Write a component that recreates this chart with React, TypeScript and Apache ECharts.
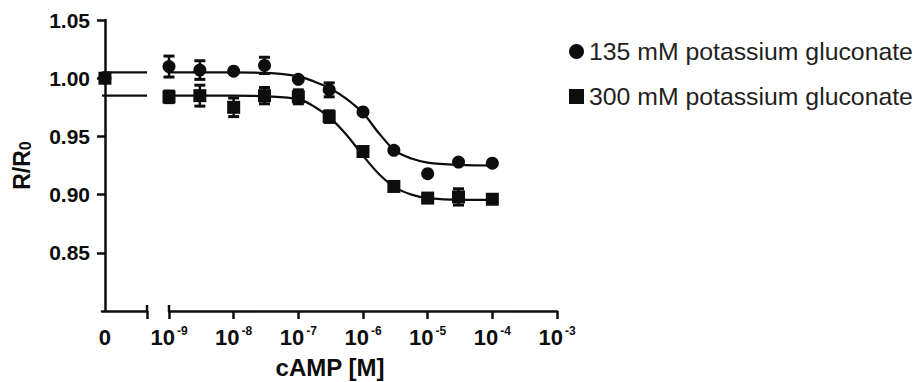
import React, { useEffect, useRef } from "react";
import * as echarts from "echarts";

// Measured concentrations (M) and responses R/R0
const conc = [1e-9, 3e-9, 1e-8, 3e-8, 1e-7, 3e-7, 1e-6, 3e-6, 1e-5, 3e-5, 1e-4];
const r135 = [1.010, 1.007, 1.006, 1.011, 0.999, 0.990, 0.971, 0.938, 0.918, 0.928, 0.927];
const err135 = [0.009, 0.008, 0, 0.007, 0, 0.006, 0, 0, 0, 0, 0];
const r300 = [0.984, 0.985, 0.975, 0.985, 0.984, 0.967, 0.937, 0.907, 0.897, 0.898, 0.896];
const err300 = [0.005, 0.009, 0.008, 0.007, 0.006, 0.005, 0, 0, 0, 0.007, 0];

// Zero-concentration point
const zeroConc = 0;
const zero135 = 1.0;
const zero300 = 1.0;

// Fitted curves
const curveConc = [1e-9, 1e-8, 3.162e-8, 1e-7, 1.778e-7, 3.162e-7, 5.623e-7, 1e-6, 1.778e-6, 3.162e-6, 5.623e-6, 1e-5, 3.162e-5, 1e-4];
const fit135 = [1.005, 1.005, 1.0045, 1.0015, 0.997, 0.991, 0.982, 0.970, 0.9525, 0.9375, 0.931, 0.9275, 0.9255, 0.925];
const fit300 = [0.985, 0.985, 0.9845, 0.982, 0.9755, 0.9655, 0.951, 0.9335, 0.9175, 0.906, 0.900, 0.897, 0.8955, 0.8955];

// Break segment (left of axis break) plateau lines
const breakX = [-0.07, 1];
const plateau135 = 1.005;
const plateau300 = 0.985;

const yTicks = [0.85, 0.9, 0.95, 1.0, 1.05];
const xTicks = [1e-9, 1e-8, 1e-7, 1e-6, 1e-5, 1e-4, 1e-3];

const NAME135 = "135 mM potassium gluconate";
const NAME300 = "300 mM potassium gluconate";
const FONT = "'Liberation Sans', Arial, Helvetica, sans-serif";
const INK = "#0d0d0d";

function errorBar(params: any, api: any) {
  const x = api.value(0);
  const lo = api.value(1);
  const hi = api.value(2);
  const p1 = api.coord([x, lo]);
  const p2 = api.coord([x, hi]);
  const w = 5.5;
  const st = { stroke: INK, lineWidth: 3 };
  return {
    type: "group",
    children: [
      { type: "line", shape: { x1: p1[0], y1: p1[1], x2: p2[0], y2: p2[1] }, style: { stroke: INK, lineWidth: 2.5 } },
      { type: "line", shape: { x1: p1[0] - w, y1: p1[1], x2: p1[0] + w, y2: p1[1] }, style: st },
      { type: "line", shape: { x1: p2[0] - w, y1: p2[1], x2: p2[0] + w, y2: p2[1] }, style: st },
    ],
  };
}

export default function App() {
  const ref = useRef<HTMLDivElement>(null);
  useEffect(() => {
    if (!ref.current) return;
    const chart = echarts.init(ref.current, null, { renderer: "svg" });
    const axisLine = { show: true, lineStyle: { color: INK, width: 2.5 } };
    const labelStyle = { color: INK, fontFamily: FONT, fontWeight: "bold", fontSize: 21 };
    const markStyle = { color: INK, opacity: 1 };

    const err135Data = conc.map((c, i) => [c, r135[i] - err135[i], r135[i] + err135[i]]).filter((d, i) => err135[i] > 0);
    const err300Data = conc.map((c, i) => [c, r300[i] - err300[i], r300[i] + err300[i]]).filter((d, i) => err300[i] > 0);

    const option: any = {
      animation: false,
      backgroundColor: "#fff",
      grid: [
        { left: 102, top: 20, width: 45, height: 291, outerBoundsMode: "none" },
        { left: 169, top: 20, width: 388, height: 291, outerBoundsMode: "none" },
      ],
      xAxis: [
        {
          type: "value",
          gridIndex: 0,
          min: breakX[0],
          max: breakX[1],
          splitLine: { show: false },
          axisLine,
          axisTick: { show: true, length: 8, lineStyle: { color: INK, width: 2.5 }, customValues: [breakX[1]] },
          axisLabel: { ...labelStyle, fontSize: 22, margin: 15, customValues: [zeroConc], formatter: () => "0" },
        },
        {
          type: "log",
          logBase: 10,
          gridIndex: 1,
          min: xTicks[0],
          max: xTicks[xTicks.length - 1],
          splitLine: { show: false },
          axisLine,
          axisTick: { show: true, length: 8, lineStyle: { color: INK, width: 2.5 } },
          axisLabel: {
            margin: 14,
            fontSize: 22,
            fontWeight: "bold",
            fontFamily: FONT,
            color: INK,
            formatter: (v: number) => `{b|10}{s|-${Math.round(-Math.log10(v))}}`,
            rich: {
              b: { color: INK, fontFamily: FONT, fontWeight: "bold", fontSize: 22, lineHeight: 24 },
              s: { color: INK, fontFamily: FONT, fontWeight: "bold", fontSize: 12, lineHeight: 13, verticalAlign: "top", padding: [0, 0, 0, 2] },
            },
          },
          name: "cAMP [M]",
          nameLocation: "middle",
          nameGap: 44,
          nameTextStyle: { color: INK, fontFamily: FONT, fontWeight: "bold", fontSize: 24, padding: [0, 66, 0, 0] },
        },
      ],
      yAxis: [
        {
          type: "value",
          gridIndex: 0,
          min: 0.8,
          max: 1.05,
          interval: 0.05,
          splitLine: { show: false },
          axisLine,
          axisTick: { show: true, length: 8, lineStyle: { color: INK, width: 2.5 }, customValues: yTicks },
          axisLabel: { ...labelStyle, margin: 12, customValues: yTicks, formatter: (v: number) => v.toFixed(2) },
          name: "R/R{sub|0}",
          nameLocation: "middle",
          nameGap: 69,
          nameRotate: 90,
          nameTextStyle: {
            color: INK, fontFamily: FONT, fontWeight: "bold", fontSize: 23,
            rich: {
              sub: { color: INK, fontFamily: FONT, fontWeight: "bold", fontSize: 16, lineHeight: 15, verticalAlign: "bottom" },
            },
          },
        },
        {
          type: "value",
          gridIndex: 1,
          min: 0.8,
          max: 1.05,
          interval: 0.05,
          show: false,
          splitLine: { show: false },
        },
      ],
      legend: {
        orient: "vertical",
        left: 564,
        top: 34,
        itemWidth: 15,
        itemHeight: 15,
        itemGap: 20,
        textStyle: { color: "#231f20", fontFamily: FONT, fontSize: 24.8 },
        data: [
          { name: NAME135, icon: "circle" },
          { name: NAME300, icon: "rect" },
        ],
      },
      graphic: [
        { type: "line", shape: { x1: 147, y1: 305, x2: 147, y2: 311 }, style: { stroke: INK, lineWidth: 2.5 } },
        { type: "line", shape: { x1: 169, y1: 305, x2: 169, y2: 311 }, style: { stroke: INK, lineWidth: 2.5 } },
      ],
      series: [
        // break segment
        { type: "line", name: "fit135a", xAxisIndex: 0, yAxisIndex: 0, data: breakX.map((x) => [x, plateau135]), symbol: "none", lineStyle: { color: INK, width: 2.2 } },
        { type: "line", name: "fit300a", xAxisIndex: 0, yAxisIndex: 0, data: breakX.map((x) => [x, plateau300]), symbol: "none", lineStyle: { color: INK, width: 2.2 } },
        { type: "scatter", name: NAME135, xAxisIndex: 0, yAxisIndex: 0, data: [[zeroConc, zero135]], symbol: "circle", symbolSize: 13, itemStyle: markStyle },
        { type: "scatter", name: NAME300, xAxisIndex: 0, yAxisIndex: 0, data: [[zeroConc, zero300]], symbol: "rect", symbolSize: 13, itemStyle: markStyle },
        // log segment
        { type: "line", name: "fit135", xAxisIndex: 1, yAxisIndex: 1, data: curveConc.map((c, i) => [c, fit135[i]]), symbol: "none", smooth: 0.35, lineStyle: { color: INK, width: 2.2 } },
        { type: "line", name: "fit300", xAxisIndex: 1, yAxisIndex: 1, data: curveConc.map((c, i) => [c, fit300[i]]), symbol: "none", smooth: 0.35, lineStyle: { color: INK, width: 2.2 } },
        { type: "custom", name: "err135", xAxisIndex: 1, yAxisIndex: 1, data: err135Data, renderItem: errorBar, z: 3 },
        { type: "custom", name: "err300", xAxisIndex: 1, yAxisIndex: 1, data: err300Data, renderItem: errorBar, z: 3 },
        { type: "scatter", name: NAME135, xAxisIndex: 1, yAxisIndex: 1, data: conc.map((c, i) => [c, r135[i]]), symbol: "circle", symbolSize: 13, itemStyle: markStyle, z: 4 },
        { type: "scatter", name: NAME300, xAxisIndex: 1, yAxisIndex: 1, data: conc.map((c, i) => [c, r300[i]]), symbol: "rect", symbolSize: 13, itemStyle: markStyle, z: 4 },
      ],
    };
    chart.setOption(option);
    return () => chart.dispose();
  }, []);
  return <div ref={ref} style={{ position: "fixed", left: 0, top: 0, width: 921, height: 382, background: "#fff" }} />;
}
